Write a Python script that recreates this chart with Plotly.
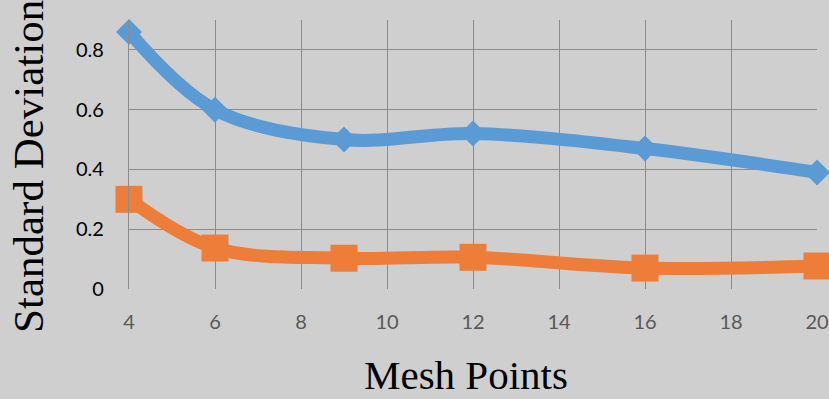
import plotly.graph_objects as go

# Mesh resolution vs. standard deviation for two cases
mesh_points = [4, 6, 9, 12, 16, 20]
std_blue = [0.86, 0.60, 0.50, 0.52, 0.47, 0.39]
std_orange = [0.30, 0.137, 0.103, 0.106, 0.070, 0.077]

x_ticks = [4, 6, 8, 10, 12, 14, 16, 18, 20]
y_ticks = [0, 0.2, 0.4, 0.6, 0.8]
y_tick_text = ["0", "0.2", "0.4", "0.6", "0.8"]

BG = "#cfcfcf"
GRID = "#8c8c8c"

fig = go.Figure()
fig.add_trace(go.Scatter(
    x=mesh_points, y=std_blue, mode="lines+markers",
    line=dict(color="#5b9bd5", width=13, shape="spline", smoothing=1),
    marker=dict(symbol="diamond", size=20, color="#5b9bd5"),
    cliponaxis=False, showlegend=False,
))
fig.add_trace(go.Scatter(
    x=mesh_points, y=std_orange, mode="lines+markers",
    line=dict(color="#ef7d3a", width=13, shape="spline", smoothing=1),
    marker=dict(symbol="square", size=27, color="#ef7d3a"),
    cliponaxis=False, showlegend=False,
))

fig.update_layout(
    width=829, height=399,
    margin=dict(l=129, r=12, t=20, b=110),
    paper_bgcolor=BG, plot_bgcolor=BG,
    xaxis=dict(
        range=[4, 20], tickvals=x_ticks, showgrid=True, gridcolor=GRID, gridwidth=1.3,
        zeroline=False, showline=False, automargin=False,
        tickfont=dict(family="Lato", size=20, color="#595959"),
        ticks="outside", ticklen=15, tickcolor="rgba(0,0,0,0)",
    ),
    yaxis=dict(
        range=[0, 0.9], tickvals=y_ticks, ticktext=y_tick_text,
        showgrid=True, gridcolor=GRID, gridwidth=1.3, automargin=False,
        zeroline=False, showline=True, linecolor=GRID, linewidth=1.3,
        tickfont=dict(family="Lato", size=20, color="#000000"),
        ticks="outside", ticklen=20, tickcolor="rgba(0,0,0,0)",
    ),
    annotations=[
        dict(text="Mesh Points", xref="paper", yref="paper",
             x=0.49, y=-0.409, xanchor="center", yanchor="bottom", showarrow=False,
             borderpad=0,
             font=dict(family="Liberation Serif", size=41, color="#000000")),
        dict(text="Standard Deviation", xref="paper", yref="paper", textangle=-90,
             x=-0.147, y=0.457, xanchor="center", yanchor="middle", showarrow=False,
             font=dict(family="Liberation Serif", size=43, color="#000000")),
    ],
)

fig.write_html("out.html")
